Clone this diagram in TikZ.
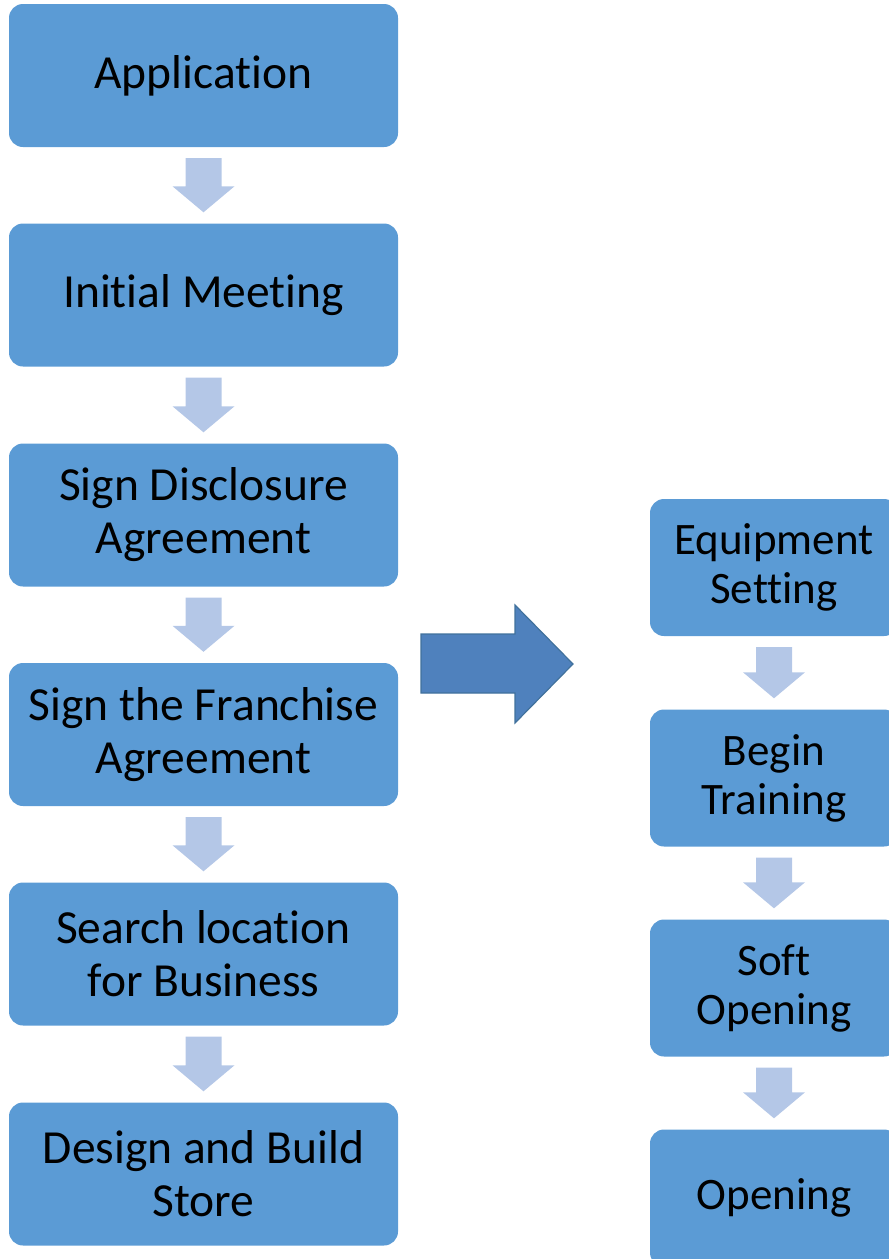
\documentclass[tikz,border=0pt]{standalone}
\usepackage{fontspec}
\setmainfont{Carlito}[RawFeature={-liga;-clig;-calt;-dlig}]
\usetikzlibrary{calc}

\definecolor{stepblue}{HTML}{5B9BD5}
\definecolor{arrowlight}{HTML}{B4C7E7}
\definecolor{bigblue}{HTML}{4F81BD}
\definecolor{bigedge}{HTML}{41719C}

\newcommand\downarr[2]{%
	\fill[arrowlight] ($(#1.south)+(-18,11)$) -- ($(#1.south)+(18,11)$)
		-- ($(#2.north)+(18,-37)$) -- ($(#2.north)+(31,-37)$)
		-- ($(#2.north)+(0,-11)$) -- ($(#2.north)+(-31,-37)$)
		-- ($(#2.north)+(-18,-37)$) -- cycle;}

\begin{document}
\begin{tikzpicture}[x=1pt,y=-1pt,
	leftbox/.style={fill=stepblue,rounded corners=14pt,minimum width=389pt,minimum height=143pt,
		align=center,inner sep=0pt,font=\fontsize{47.5}{53}\selectfont},
	rightbox/.style={fill=stepblue,rounded corners=14pt,minimum width=248pt,minimum height=137pt,
		align=center,inner sep=0pt,font=\fontsize{45}{49}\selectfont}]

	\useasboundingbox (0,0) rectangle (889,1259);
	\clip (0,0) rectangle (889,1259);

	\node (app) at (203.5,75.5) [leftbox] {Application};
	\node (meet) at (203.5,295) [leftbox] {Initial Meeting};
	\node (disc) at (203.5,515) [leftbox] {Sign Disclosure\\Agreement};
	\node (fran) at (203.5,734.5) [leftbox] {Sign the Franchise\\Agreement};
	\node (loc) at (203.5,954) [leftbox] {Search location\\for Business};
	\node (store) at (203.5,1174) [leftbox] {Design and Build\\Store};

	\node (equip) at (774,567.5) [rightbox] {Equipment\\Setting};
	\node (train) at (774,778) [rightbox] {Begin\\Training};
	\node (soft) at (774,988) [rightbox] {Soft\\Opening};
	\node (open) at (774,1198) [rightbox] {Opening};

	\downarr{app}{meet}
	\downarr{meet}{disc}
	\downarr{disc}{fran}
	\downarr{fran}{loc}
	\downarr{loc}{store}
	\downarr{equip}{train}
	\downarr{train}{soft}
	\downarr{soft}{open}

	\draw[fill=bigblue,draw=bigedge,line width=1.2pt] (421,634) -- (515,634) -- (515,605) -- (573,664)
		-- (515,723) -- (515,693) -- (421,693) -- cycle;
\end{tikzpicture}
\end{document}
